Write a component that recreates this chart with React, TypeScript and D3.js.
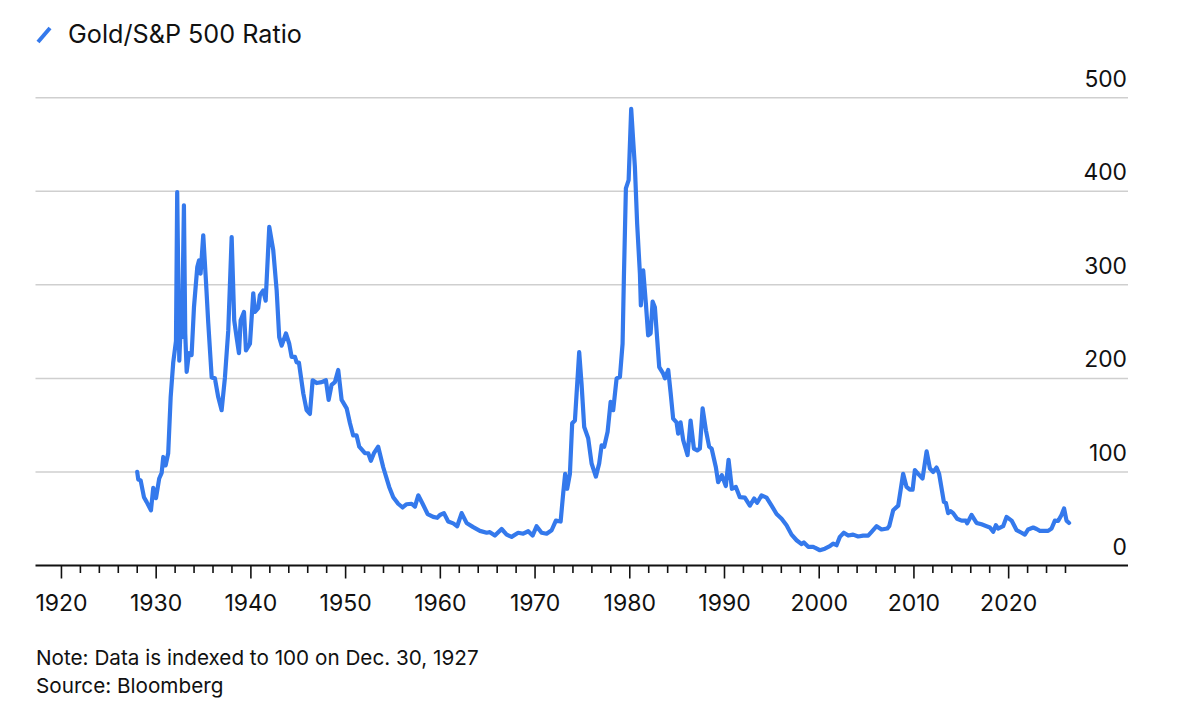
import React, { useEffect } from "react";
import * as d3 from "d3";

const years: number[] = [
  1928.0, 1928.11, 1928.36, 1928.71, 1928.99, 1929.45, 1929.69, 1929.98, 1930.32, 1930.58,
  1930.75, 1931.0, 1931.27, 1931.53, 1931.8, 1932.09, 1932.22, 1932.44, 1932.61, 1932.72,
  1932.93, 1933.07, 1933.22, 1933.46, 1933.74, 1933.99, 1934.34, 1934.52, 1934.69, 1934.97,
  1935.25, 1935.5, 1935.86, 1936.2, 1936.55, 1936.91, 1937.26, 1937.61, 1937.97, 1938.24,
  1938.49, 1938.74, 1938.92, 1939.27, 1939.48, 1939.9, 1940.25, 1940.43, 1940.77, 1940.95,
  1941.3, 1941.56, 1941.94, 1942.36, 1942.72, 1942.99, 1943.25, 1943.7, 1944.05, 1944.3,
  1944.65, 1944.83, 1945.07, 1945.53, 1945.88, 1946.23, 1946.52, 1946.94, 1947.47, 1947.92,
  1948.21, 1948.52, 1948.87, 1949.22, 1949.58, 1950.11, 1950.46, 1950.8, 1951.16, 1951.44,
  1952.04, 1952.39, 1952.67, 1952.99, 1953.44, 1953.97, 1954.6, 1955.03, 1955.55, 1956.02,
  1956.44, 1956.97, 1957.32, 1957.67, 1958.13, 1958.66, 1959.25, 1959.67, 1959.96, 1960.38,
  1960.83, 1961.36, 1961.78, 1962.25, 1962.77, 1963.47, 1964.18, 1964.89, 1965.23, 1965.76,
  1966.47, 1967.0, 1967.52, 1968.22, 1968.75, 1969.28, 1969.74, 1970.16, 1970.69, 1971.22,
  1971.75, 1972.2, 1972.7, 1972.97, 1973.18, 1973.39, 1973.68, 1973.92, 1974.21, 1974.66,
  1974.91, 1975.19, 1975.61, 1975.97, 1976.42, 1976.77, 1977.03, 1977.3, 1977.66, 1977.98,
  1978.25, 1978.61, 1978.96, 1979.24, 1979.38, 1979.59, 1979.88, 1980.15, 1980.36, 1980.54,
  1980.78, 1981.07, 1981.17, 1981.42, 1981.7, 1981.94, 1982.2, 1982.41, 1982.65, 1983.11,
  1983.53, 1983.71, 1984.06, 1984.31, 1984.58, 1984.94, 1985.11, 1985.36, 1985.64, 1986.1,
  1986.42, 1986.77, 1987.12, 1987.4, 1987.69, 1988.04, 1988.38, 1988.64, 1989.09, 1989.33,
  1989.72, 1990.14, 1990.43, 1990.78, 1991.2, 1991.62, 1992.15, 1992.68, 1993.13, 1993.45,
  1993.91, 1994.44, 1994.97, 1995.5, 1996.03, 1996.55, 1997.08, 1997.61, 1998.14, 1998.38,
  1998.84, 1999.36, 1999.54, 2000.07, 2000.6, 2001.12, 2001.47, 2001.83, 2002.18, 2002.6,
  2003.06, 2003.58, 2004.11, 2004.64, 2005.17, 2005.53, 2006.06, 2006.58, 2007.18, 2007.39,
  2007.81, 2008.34, 2008.86, 2009.22, 2009.57, 2009.86, 2010.1, 2010.45, 2010.91, 2011.34,
  2011.69, 2012.03, 2012.39, 2012.66, 2013.16, 2013.37, 2013.61, 2013.87, 2014.14, 2014.56,
  2015.03, 2015.48, 2015.62, 2016.08, 2016.61, 2017.14, 2017.67, 2018.02, 2018.37, 2018.65,
  2018.89, 2019.42, 2019.78, 2020.31, 2020.84, 2021.36, 2021.71, 2022.06, 2022.59, 2022.95,
  2023.3, 2023.83, 2024.17, 2024.53, 2024.88, 2025.22, 2025.58, 2025.85, 2026.11, 2026.38,
];

const ratio: number[] = [
  100, 92, 91, 73, 68, 59, 83, 72, 93, 99,
  116, 107, 120, 180, 217, 240, 399, 219, 262, 244,
  385, 248, 207, 227, 225, 276, 319, 326, 312, 353,
  305, 259, 201, 200, 180, 166, 201, 251, 351, 262,
  244, 227, 262, 271, 230, 237, 291, 271, 275, 289,
  294, 283, 362, 337, 294, 244, 235, 248, 237, 223,
  223, 217, 217, 184, 166, 162, 198, 195, 196, 198,
  177, 193, 196, 209, 177, 168, 152, 139, 139, 127,
  120, 120, 112, 120, 127, 105, 84, 73, 66, 62,
  65.5, 66, 63, 75, 66, 55, 52, 51, 54, 56,
  47, 45, 42, 56, 45.5, 41, 37, 35, 35.6, 32,
  39, 33, 30.6, 35, 34, 36.6, 32, 42, 35, 34,
  37.7, 48, 47, 77, 98, 82, 98, 152, 155, 228,
  194, 148, 136, 109, 95, 109, 128.5, 127, 143, 175,
  166, 200, 201.5, 237, 308, 403, 412, 488, 454, 426,
  365, 312, 278, 315.5, 280, 246, 248, 282, 276, 212,
  205, 200, 209, 185, 157, 153, 141, 153, 134, 118,
  155, 125, 123, 125, 168, 144.5, 127, 125, 105, 89,
  96.5, 85, 113, 82, 84, 73, 72.6, 64, 71.6, 67,
  75, 72.6, 64, 55, 50, 43, 33, 27, 22.8, 24.6,
  20, 20, 19, 16.3, 18, 20.6, 23.5, 21.7, 30.6, 35,
  32, 33, 31, 32, 32, 36, 42, 38.5, 39.5, 42,
  59, 64, 98, 84, 81, 81, 102, 98, 93, 122,
  103.6, 100, 104.7, 98, 68, 67, 56, 58, 56, 50,
  48, 48, 45, 54, 45.5, 44, 42, 40.6, 36, 43,
  39.5, 42, 52, 48, 37.7, 35, 33, 38.5, 40.6, 39,
  37, 37, 37, 39.5, 48, 47.6, 54, 61, 48, 45.5,
];

const yTicks: number[] = [0, 100, 200, 300, 400, 500];
const majorYears: number[] = [1920, 1930, 1940, 1950, 1960, 1970, 1980, 1990, 2000, 2010, 2020];
const minorYears: number[] = d3.range(1920, 2027, 2);

const seriesName = "Gold/S&P 500 Ratio";
const noteText = "Note: Data is indexed to 100 on Dec. 30, 1927";
const sourceText = "Source: Bloomberg";

const W = 1200;
const H = 721;
const FONT = "Inter, 'Liberation Sans', Arial, sans-serif";
const BLUE = "#3479ec";

export default function App() {
  useEffect(() => {
    document.body.style.margin = "0";
  }, []);

  const left = 35.5;
  const right = 1128;
  const x = d3.scaleLinear().domain([1917.26, 2032.6]).range([left, right]);
  const y = d3.scaleLinear().domain([0, 500]).range([565.5, 97.7]);

  const pts = years.map((yr, i) => [yr, ratio[i]] as [number, number]);
  const line = d3
    .line<[number, number]>()
    .x((d) => x(d[0]))
    .y((d) => y(d[1]))
    .curve(d3.curveLinear);

  return (
    <svg
      width={W}
      height={H}
      viewBox={`0 0 ${W} ${H}`}
      style={{ display: "block", position: "absolute", left: 0, top: 0, background: "#fff" }}
      fontFamily={FONT}
    >
      <rect x={0} y={0} width={W} height={H} fill="#fff" />
      {/* legend */}
      <line x1={38} y1={42} x2={50} y2={28} stroke={BLUE} strokeWidth={4} strokeLinecap="butt" />
      <text x={68} y={42.5} fontSize={25.2} fill="#111">
        {seriesName}
      </text>

      {/* gridlines */}
      {yTicks
        .filter((t) => t > 0)
        .map((t) => (
          <line key={"g" + t} x1={left} x2={right} y1={y(t)} y2={y(t)} stroke="#cfcfcf" strokeWidth={1.5} />
        ))}
      {yTicks.map((t) => (
        <text key={"yl" + t} x={1127} y={y(t) - 11} fontSize={22.8} textAnchor="end" fill="#111">
          {t}
        </text>
      ))}

      {/* data line */}
      <path d={line(pts) || ""} fill="none" stroke={BLUE} strokeWidth={4.2} strokeLinejoin="round" strokeLinecap="round" />

      {/* x axis */}
      <line x1={left} x2={right} y1={y(0)} y2={y(0)} stroke="#111" strokeWidth={1.8} />
      {minorYears.map((yr) => (
        <line
          key={"t" + yr}
          x1={x(yr)}
          x2={x(yr)}
          y1={y(0)}
          y2={y(0) + (yr % 10 === 0 ? 13 : 7.5)}
          stroke="#111"
          strokeWidth={1.6}
        />
      ))}
      {majorYears.map((yr) => (
        <text key={"xl" + yr} x={x(yr)} y={611} fontSize={23} textAnchor="middle" fill="#111">
          {yr}
        </text>
      ))}

      {/* footer */}
      <text x={36} y={665} fontSize={20.7} fill="#111">
        {noteText}
      </text>
      <text x={36} y={692.5} fontSize={20.7} fill="#111">
        {sourceText}
      </text>
    </svg>
  );
}
